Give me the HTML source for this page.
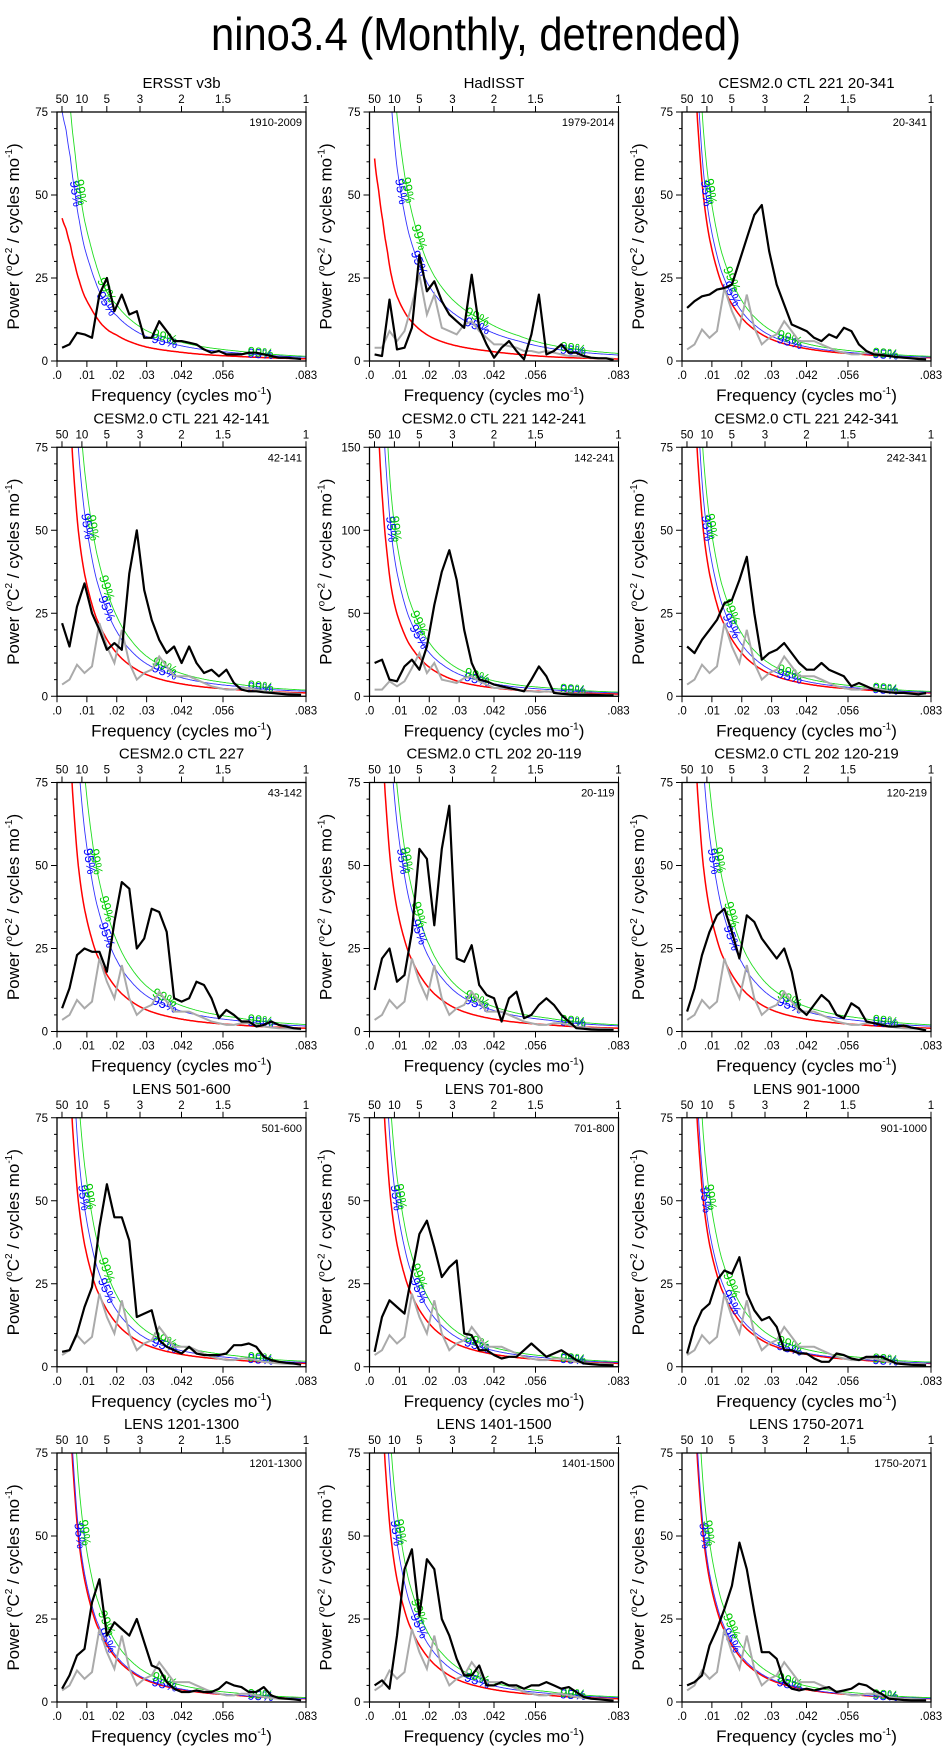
<!DOCTYPE html>
<html><head><meta charset="utf-8"><title>nino3.4 spectra</title>
<style>
html,body{margin:0;padding:0;background:#fff;}
svg{display:block;font-family:"Liberation Sans",Arial,sans-serif;}
</style></head>
<body>
<svg id="chart" width="949" height="1750" viewBox="0 0 949 1750">
<text x="476" y="50" font-size="46" text-anchor="middle" textLength="530" lengthAdjust="spacingAndGlyphs">nino3.4 (Monthly, detrended)</text>
</svg>
<script>
// ---- data ----
const freq = [0.0017,0.0042,0.0067,0.0092,0.0117,0.0142,0.0167,0.0192,0.0217,0.0242,0.0267,0.0292,0.0317,0.0342,0.0367,0.0392,0.0417,0.0442,0.0467,0.0492,0.0517,0.0542,0.0567,0.0592,0.0617,0.0642,0.0667,0.0692,0.0717,0.0742,0.0767,0.0792,0.0817];
const redFreq = [0.0017,0.003,0.0045,0.006,0.0075,0.009,0.011,0.013,0.015,0.0175,0.02,0.025,0.03,0.04,0.05,0.06,0.07,0.0833];
const panelTitles = ["ERSST v3b","HadISST","CESM2.0 CTL 221 20-341","CESM2.0 CTL 221 42-141","CESM2.0 CTL 221 142-241","CESM2.0 CTL 221 242-341","CESM2.0 CTL 227","CESM2.0 CTL 202 20-119","CESM2.0 CTL 202 120-219","LENS 501-600","LENS 701-800","LENS 901-1000","LENS 1201-1300","LENS 1401-1500","LENS 1750-2071"];
const panelRanges = ["1910-2009","1979-2014","20-341","42-141","142-241","242-341","43-142","20-119","120-219","501-600","701-800","901-1000","1201-1300","1401-1500","1750-2071"];
const yMax = [75,75,75,75,150,75,75,75,75,75,75,75,75,75,75];
const bottomTicks = [0,0.01,0.02,0.03,1/24,1/18,1/12];
const bottomLabels = [".0",".01",".02",".03",".042",".056",".083"];
const topPeriods = [50,10,5,3,2,1.5,1];
const topLabels = ["50","10","5","3","2","1.5","1"];
const redERSST = [43,40,35,29,24,20,16.5,13.5,11,9,7.8,5.6,4.2,2.8,1.9,1.4,1.0,0.65];
const redHad = [61,52,42,33,25,20,16,13,11,9,7.5,5.6,4.4,3,2,1.3,0.9,0.6];
const redCESM = [200,120,85,62,47,38,30,24,20,16,13,9,6.5,4,2.7,2,1.4,1.0];
const redCESM5 = [270,162,115,84,63,51,40.5,32.4,27,21.6,17.5,12.2,8.8,5.4,3.6,2.7,1.9,1.35];
const c95 = [1.75,3.0,1.15,1.5,1.5,1.2,1.65,1.7,1.6,1.3,1.3,1.1,1.05,1.3,1.05];
const c99 = [2.17,3.8,1.4,1.85,1.85,1.45,2.1,2.0,2.0,1.65,1.55,1.4,1.35,1.55,1.3];
const grayObs = [3.5,5,9.5,7,9,22,15,10,20,10,5,7,8,12,9,6,6,6,5,4,3,2.5,2,2,2.5,2.5,2,1.5,1.2,1,0.9,0.8,0.7];
const grayHad = [4,4,9,6,9,17,26,14,20,10,9,8,11,12,9,7,5,5,4.5,4,3,3,2.5,3,2.5,2,1.5,1.5,1.2,1,0.9,0.8,0.7];
const black1 = [4,5,8.5,8,7,20,25,15,20,14,15,7,7,12,9,6,6,5.5,5,3.5,2.5,3,2,2,2,2.5,2.5,2,1.5,1,1,0.8,0.6];
const black2 = [2,1.5,18.5,3.5,4,10,32,21,24,18,14,12,10,26,10,5,1,4,6,3,0.5,8,20,2,3,5,2.5,2.5,1.5,1,0.8,0.8,0.3];
const black3 = [16,18,19.5,20,21.5,22,23,30,37,44,47,33,23,17,11,10,9,7,6,8,7,10,9,5,3,2,1.8,1.5,1.2,1,0.8,0.6,0.5];
const black4 = [22,15,27,34,25,20,14,16,14,37,50,32,23,17,13,15,10,15,10,7,8,6,8,4,2,1.5,1.5,1.2,1,0.8,0.6,0.5,0.4];
const black5 = [20,22,10,9,18,22,16,30,55,75,88,70,40,20,10,9,7,6,5,4,3,10,18,12,2,1.5,1.2,1,0.9,0.8,0.7,0.6,0.5];
const black6 = [15,13,17,20,23,28,29,35,42,25,11,13,14,16,13,10,8,8,10,8,7,6,3,4,3,2,1.5,1.2,1,1,0.8,0.6,1];
const black7 = [7,13,23,25,24,24,18,33,45,43,25,28,37,36,30,10,9,10,15,14,10,4,6.5,5,3,3,1.5,2,3,2,1.5,1,0.8];
const black8 = [12.5,22,25,15,17,30,55,52,32,55,68,22,21,26,14,11,10,3,10,12,4,5,8,10,8,5,3,1,0.8,0.6,0.5,0.5,0.5];
const black9 = [6,13,23,30,35,37,30,22,35,33,28,25,22,25,18,7,5,8,11,9,5,4,8.5,7,3,2.5,2,1.5,1.5,1.8,1.2,0.8,0.3];
const black10 = [4.5,5,10,18,24,42,55,45,45,38,15,16,17,8,6,5,4,6,4,3.5,3.5,3.5,4,6.5,6.5,7,6,3,2,1.5,1.2,1,0.6];
const black11 = [4.5,15,20,18,16,28,40,44,36,27,30,32,10,9.5,5,5,3.5,2.5,3,3,5,7,5,3,4,5,3.5,2,1,0.8,0.6,0.5,0.4];
const black12 = [4,12,17,19,26,29,28,33,22,17,14,15,12,5,5,4,4,2.5,1.5,1.5,4,3.5,2.5,2,3,3,3,2,1,0.8,0.6,0.5,0.4];
const black13 = [4,8,14,16,30,37,20,24,22,20,25,18,11,10,6,4,3,3,3.5,3,3,4,6,5,4.5,3,3,4.5,2,1.2,1,0.8,0.5];
const black14 = [5,6.5,4,20,40,46,26,43,40,25,20,13,8,8,11,5,5,6,5,5,4,5,5,6,5,4,4.5,3,1.5,1,0.8,0.6,0.4];
const black15 = [5,6,8,17,22,28,35,48,40,27,15,15,13,6,4,3.5,4,3.5,4,4.5,3,3.5,4,5.5,5,3.5,2.5,1,0.8,0.6,0.5,0.5,0.5];

const blackSeries = [black1,black2,black3,black4,black5,black6,black7,black8,black9,black10,black11,black12,black13,black14,black15];
const graySeries = [null,grayHad,grayObs,grayObs,grayHad,grayObs,grayObs,grayObs,grayObs,grayObs,grayObs,grayObs,grayObs,grayObs,grayObs];
const redSeries = [redERSST,redHad,redCESM,redCESM,redCESM5,redCESM,redCESM,redCESM,redCESM,redCESM,redCESM,redCESM,redCESM,redCESM,redCESM];

// ---- drawing ----
const NS = 'http://www.w3.org/2000/svg';
const svg = document.getElementById('chart');
const FMAX = 1/12, W = 249, H = 249;
function mk(tag, parent){ const e = document.createElementNS(NS, tag); parent.appendChild(e); return e; }

function redAt(arr, f){
  if (f <= redFreq[0]) return arr[0];
  for (let i=1;i<redFreq.length;i++){
    if (f <= redFreq[i]){
      const t = (Math.log(f)-Math.log(redFreq[i-1]))/(Math.log(redFreq[i])-Math.log(redFreq[i-1]));
      return Math.exp(Math.log(arr[i-1]) + t*(Math.log(arr[i])-Math.log(arr[i-1])));
    }
  }
  return arr[arr.length-1];
}

for (let p=0;p<15;p++){
  const col = p%3, row = Math.floor(p/3);
  const left = 57 + col*312.5, top = 112 + row*335.25;
  const ym = yMax[p];
  const xs = f => left + f/FMAX*W;
  const ys = v => top + H - v/ym*H;
  const g = mk('g', svg);
  
  

  const cp = mk('clipPath', g);
  cp.setAttribute('id', 'clip'+p);
  const cr = mk('rect', cp);
  cr.setAttribute('x', left); cr.setAttribute('y', top); cr.setAttribute('width', W); cr.setAttribute('height', H);

  const plot = mk('g', g);
  plot.setAttribute('clip-path', 'url(#clip'+p+')');
  
  

  const dense = [];
  for (let k=0;k<=300;k++){ dense.push(0.0017 + (FMAX-0.0017)*k/300); }
  const curves = [
    {mult:1, color:'#ff0000', w:1.5, name:'red-noise-curve'},
    {mult:c95[p], color:'#3333ff', w:0.9, name:'conf-95-curve'},
    {mult:c99[p], color:'#22dd22', w:0.9, name:'conf-99-curve'}
  ];
  const curvePts = [];
  curves.forEach(c => {
    const pts = dense.map(f => [xs(f), ys(redAt(redSeries[p], f)*c.mult)]);
    curvePts.push(pts);
    const path = mk('path', plot);
    path.setAttribute('d', 'M' + pts.map(q => q[0].toFixed(1)+','+Math.max(top-400,q[1]).toFixed(1)).join('L'));
    path.setAttribute('fill', 'none');
    path.setAttribute('stroke', c.color);
    path.setAttribute('stroke-width', c.w);
    
    
  });

  [[1,'95%','#0000ff'],[2,'99%','#00cc00']].forEach(([ci,txt,colr]) => {
    const pts = curvePts[ci];
    const targets = [];
    const vTarget = ys(ym*0.69);
    let kU = pts.findIndex(q => q[1] >= vTarget);
    if (kU > 0) targets.push(kU);
    [0.0165,0.036,0.068].forEach(ff => targets.push(Math.round((ff-0.0017)/(FMAX-0.0017)*300)));
    targets.forEach(k => {
      const a = pts[Math.max(0,k-2)], b = pts[Math.min(300,k+2)];
      let ang = Math.atan2(b[1]-a[1], b[0]-a[0])*180/Math.PI;
      const t = mk('text', plot);
      t.setAttribute('x', pts[k][0].toFixed(1));
      t.setAttribute('y', pts[k][1].toFixed(1));
      t.setAttribute('font-size', '13');
      t.setAttribute('fill', colr);
      t.setAttribute('text-anchor', 'middle');
      t.setAttribute('dominant-baseline', 'middle');
      t.setAttribute('transform', 'rotate('+ang.toFixed(1)+' '+pts[k][0].toFixed(1)+' '+pts[k][1].toFixed(1)+')');
      t.textContent = txt;
      
      
    });
  });

  if (graySeries[p]){
    const gp = mk('path', plot);
    gp.setAttribute('d', 'M' + freq.map((f,i) => xs(f).toFixed(1)+','+ys(graySeries[p][i]).toFixed(1)).join('L'));
    gp.setAttribute('fill', 'none');
    gp.setAttribute('stroke', '#aaaaaa');
    gp.setAttribute('stroke-width', '2');
    
    
  }
  const bp = mk('path', plot);
  bp.setAttribute('d', 'M' + freq.map((f,i) => xs(f).toFixed(1)+','+ys(blackSeries[p][i]).toFixed(1)).join('L'));
  bp.setAttribute('fill', 'none');
  bp.setAttribute('stroke', '#000');
  bp.setAttribute('stroke-width', '2.2');
  bp.setAttribute('stroke-linejoin', 'round');
  
  

  const fr = mk('rect', g);
  fr.setAttribute('x', left); fr.setAttribute('y', top); fr.setAttribute('width', W); fr.setAttribute('height', H);
  fr.setAttribute('fill', 'none'); fr.setAttribute('stroke', '#000'); fr.setAttribute('stroke-width', '1.3');
  
  

  const major = ym/3, minor = ym/15;
  for (let v=0; v<=ym+1e-6; v+=minor){
    const isMaj = Math.abs(v/major - Math.round(v/major)) < 1e-6;
    const tk = mk('line', g);
    tk.setAttribute('x1', left - (isMaj?6:3)); tk.setAttribute('x2', left);
    tk.setAttribute('y1', ys(v)); tk.setAttribute('y2', ys(v));
    tk.setAttribute('stroke', '#000'); tk.setAttribute('stroke-width', '1');
    
    
    if (isMaj){
      const tl = mk('text', g);
      tl.setAttribute('x', left - 9); tl.setAttribute('y', ys(v) + 4);
      tl.setAttribute('font-size', '11.5'); tl.setAttribute('text-anchor', 'end');
      tl.textContent = String(Math.round(v));
      
      
    }
  }
  bottomTicks.forEach((f,i) => {
    const tk = mk('line', g);
    tk.setAttribute('x1', xs(f)); tk.setAttribute('x2', xs(f));
    tk.setAttribute('y1', top+H); tk.setAttribute('y2', top+H+6);
    tk.setAttribute('stroke', '#000'); tk.setAttribute('stroke-width', '1');
    
    
    const tl = mk('text', g);
    tl.setAttribute('x', xs(f)); tl.setAttribute('y', top+H+18);
    tl.setAttribute('font-size', '11.5'); tl.setAttribute('text-anchor', 'middle');
    tl.textContent = bottomLabels[i];
    
    
  });
  topPeriods.forEach((per,i) => {
    const f = 1/(12*per);
    const tk = mk('line', g);
    tk.setAttribute('x1', xs(f)); tk.setAttribute('x2', xs(f));
    tk.setAttribute('y1', top); tk.setAttribute('y2', top-6);
    tk.setAttribute('stroke', '#000'); tk.setAttribute('stroke-width', '1');
    
    
    const tl = mk('text', g);
    tl.setAttribute('x', xs(f)); tl.setAttribute('y', top-9);
    tl.setAttribute('font-size', '11.5'); tl.setAttribute('text-anchor', 'middle');
    tl.textContent = topLabels[i];
    
    
  });
  const ti = mk('text', g);
  ti.setAttribute('x', left + W/2); ti.setAttribute('y', top - 24);
  ti.setAttribute('font-size', '15'); ti.setAttribute('text-anchor', 'middle');
  ti.textContent = panelTitles[p];
  
  

  const rg = mk('text', g);
  rg.setAttribute('x', left + W - 4); rg.setAttribute('y', top + 14);
  rg.setAttribute('font-size', '11'); rg.setAttribute('text-anchor', 'end');
  rg.textContent = panelRanges[p];
  
  

  const xt = mk('text', g);
  xt.setAttribute('x', left + W/2); xt.setAttribute('y', top + H + 40);
  xt.setAttribute('font-size', '17'); xt.setAttribute('text-anchor', 'middle');
  xt.innerHTML = 'Frequency (cycles mo<tspan font-size="10" dy="-7">-1</tspan><tspan dy="7">)</tspan>';
  
  

  const yt = mk('text', g);
  const cx = left - 38, cy = top + H/2;
  yt.setAttribute('x', cx); yt.setAttribute('y', cy);
  yt.setAttribute('font-size', '17'); yt.setAttribute('text-anchor', 'middle');
  yt.setAttribute('transform', 'rotate(-90 '+cx+' '+cy+')');
  yt.innerHTML = 'Power (<tspan font-size="10" dy="-7">o</tspan><tspan dy="7">C</tspan><tspan font-size="10" dy="-7">2</tspan><tspan dy="7"> / cycles mo</tspan><tspan font-size="10" dy="-7">-1</tspan><tspan dy="7">)</tspan>';
  
  
}
</script>
</body></html>
